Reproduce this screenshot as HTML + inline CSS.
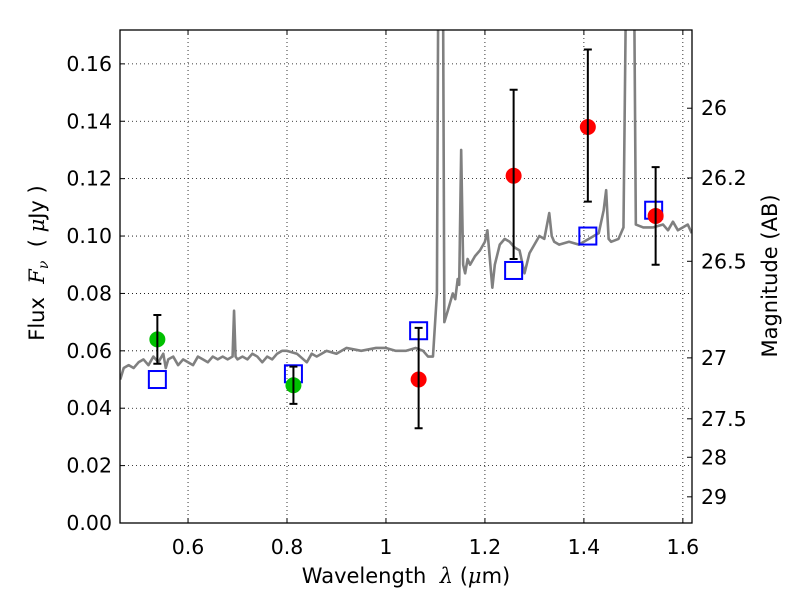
<!DOCTYPE html>
<html><head><meta charset="utf-8"><style>
body{margin:0;background:#fff}
svg text{font-family:"DejaVu Sans","Liberation Sans",sans-serif;fill:#000}
</style></head><body>
<svg id="chart" width="800" height="600" xmlns="http://www.w3.org/2000/svg">
<rect width="800" height="600" fill="#fff"/>
<g id="grid"></g>
<g id="spec"></g>
<g id="marks"></g>
<rect x="120" y="30" width="572" height="493" fill="none" stroke="#000" stroke-width="1.3"/>
<g id="axes"></g>
<text x="406" y="583" font-size="21" text-anchor="middle">Wavelength&#160; <tspan font-style="italic" font-family="DejaVu Serif">λ</tspan> (<tspan font-style="italic" font-family="DejaVu Serif">μ</tspan>m)</text>
<text transform="translate(44,263) rotate(-90)" font-size="21" text-anchor="middle">Flux&#160; <tspan font-style="italic" font-family="DejaVu Serif">F</tspan><tspan font-style="italic" font-family="DejaVu Serif" font-size="14" dy="4">ν</tspan><tspan dy="-4">&#160; ( </tspan><tspan font-style="italic" font-family="DejaVu Serif">μ</tspan>Jy )</text>
<text transform="translate(777,276) rotate(-90)" font-size="21" text-anchor="middle">Magnitude (AB)</text>
</svg>
<script>
const xTicks=[0.6,0.8,1.0,1.2,1.4,1.6];
const xTickLabels=["0.6","0.8","1","1.2","1.4","1.6"];
const yTicks=[0,0.02,0.04,0.06,0.08,0.10,0.12,0.14,0.16];
const yTickLabels=["0.00","0.02","0.04","0.06","0.08","0.10","0.12","0.14","0.16"];
const magTicks=[26,26.2,26.5,27,27.5,28,29];
const magTickLabels=["26","26.2","26.5","27","27.5","28","29"];
const specLam=[0.463,0.47,0.48,0.49,0.5,0.51,0.52,0.53,0.54,0.55,0.555,0.56,0.57,0.58,0.59,0.6,0.61,0.62,0.63,0.64,0.65,0.66,0.67,0.68,0.69,0.693,0.696,0.70,0.71,0.72,0.73,0.74,0.75,0.76,0.77,0.78,0.79,0.80,0.82,0.84,0.85,0.86,0.88,0.90,0.92,0.95,0.98,1.0,1.02,1.04,1.06,1.075,1.085,1.095,1.103,1.106,1.109,1.112,1.115,1.118,1.125,1.135,1.14,1.145,1.148,1.152,1.156,1.16,1.165,1.17,1.18,1.19,1.2,1.205,1.21,1.215,1.22,1.23,1.24,1.25,1.26,1.27,1.28,1.29,1.3,1.31,1.32,1.33,1.335,1.34,1.35,1.37,1.39,1.4,1.41,1.42,1.43,1.44,1.445,1.45,1.455,1.47,1.48,1.486,1.489,1.493,1.497,1.501,1.505,1.52,1.54,1.56,1.57,1.58,1.59,1.6,1.61,1.618];
const specFlux=[0.050,0.054,0.055,0.054,0.056,0.057,0.055,0.058,0.056,0.059,0.054,0.057,0.058,0.055,0.057,0.056,0.055,0.058,0.057,0.056,0.058,0.057,0.058,0.057,0.058,0.074,0.058,0.057,0.058,0.057,0.059,0.058,0.056,0.058,0.057,0.059,0.060,0.060,0.059,0.056,0.059,0.058,0.060,0.059,0.061,0.060,0.061,0.061,0.060,0.060,0.061,0.060,0.058,0.058,0.080,0.20,0.20,0.20,0.20,0.070,0.074,0.080,0.078,0.085,0.083,0.130,0.090,0.087,0.092,0.090,0.093,0.095,0.098,0.102,0.092,0.082,0.090,0.097,0.099,0.098,0.096,0.095,0.087,0.094,0.097,0.100,0.099,0.108,0.100,0.098,0.097,0.098,0.097,0.098,0.099,0.100,0.101,0.109,0.116,0.099,0.098,0.099,0.103,0.20,0.20,0.20,0.20,0.20,0.104,0.103,0.103,0.104,0.102,0.105,0.102,0.103,0.104,0.101];
const ptLam=[0.538,0.813,1.066,1.258,1.408,1.545];
const ptFlux=[0.064,0.048,0.050,0.121,0.138,0.107];
const errLo=[0.0555,0.0415,0.033,0.092,0.112,0.090];
const errHi=[0.0725,0.0545,0.068,0.151,0.165,0.124];
const ptColor=["#00c000","#00c000","#ff0000","#ff0000","#ff0000","#ff0000"];
const modelLam=[0.538,0.813,1.066,1.258,1.408,1.541];
const modelFlux=[0.050,0.052,0.067,0.088,0.100,0.109];

const X0=120,X1=692,Y0=523,Y1=30,LMIN=0.4625,LMAX=1.6185,FMAX=0.1718;
const sx=l=>X0+(l-LMIN)/(LMAX-LMIN)*(X1-X0);
const sy=f=>Y0-f/FMAX*(Y0-Y1);
const NS="http://www.w3.org/2000/svg";
function mk(tag,attrs,parent){const e=document.createElementNS(NS,tag);for(const k in attrs)e.setAttribute(k,attrs[k]);parent.appendChild(e);return e;}
const grid=document.getElementById('grid'),axes=document.getElementById('axes'),spec=document.getElementById('spec'),marks=document.getElementById('marks');
xTicks.forEach((t,i)=>{const x=sx(t);
 const g=mk('line',{x1:x,x2:x,y1:Y1,y2:Y0,stroke:'#000','stroke-width':0.8,'stroke-dasharray':'1,3'},grid);
 
 const tk=mk('path',{d:`M${x},${Y0}v-5M${x},${Y1}v5`,stroke:'#000','stroke-width':1},axes);
 
 const tx=mk('text',{x:x,y:554,'font-size':20.5,'text-anchor':'middle'},axes);tx.textContent=xTickLabels[i];
 });
yTicks.forEach((t,i)=>{const y=sy(t);
 if(t>0){const g=mk('line',{x1:X0,x2:X1,y1:y,y2:y,stroke:'#000','stroke-width':0.8,'stroke-dasharray':'1,3'},grid);
 }
 const tk=mk('path',{d:`M${X0},${y}h5`,stroke:'#000','stroke-width':1},axes);
 
 const tx=mk('text',{x:112,y:y+7,'font-size':20.5,'text-anchor':'end'},axes);tx.textContent=yTickLabels[i];
 });
magTicks.forEach((m,i)=>{const y=sy(Math.pow(10,(23.9-m)/2.5));
 const tk=mk('path',{d:`M${X1},${y}h-5`,stroke:'#000','stroke-width':1},axes);
 
 const tx=mk('text',{x:701,y:y+7,'font-size':20.5},axes);tx.textContent=magTickLabels[i];
 });
mk('clipPath',{id:'cp'},spec).appendChild(document.createElementNS(NS,'rect'));
const cr=spec.querySelector('#cp rect');cr.setAttribute('x',X0);cr.setAttribute('y',Y1);cr.setAttribute('width',X1-X0);cr.setAttribute('height',Y0-Y1);
const sp=mk('polyline',{points:specLam.map((l,i)=>sx(l)+','+sy(specFlux[i])).join(' '),fill:'none',stroke:'#808080','stroke-width':2.6,'stroke-linejoin':'round','clip-path':'url(#cp)'},spec);

modelLam.forEach((l,i)=>{const x=sx(l),y=sy(modelFlux[i]);
 const r=mk('rect',{x:x-8.5,y:y-8.5,width:17,height:17,fill:'none',stroke:'#0000ff','stroke-width':2},marks);
 });
ptLam.forEach((l,i)=>{const x=sx(l),y=sy(ptFlux[i]),a=sy(errHi[i]),b=sy(errLo[i]);
 const c=mk('circle',{cx:x,cy:y,r:8,fill:ptColor[i]},marks);
 
 const e=mk('path',{d:`M${x},${a}V${b}M${x-4},${a}h8M${x-4},${b}h8`,stroke:'#000','stroke-width':2},marks);
 });
</script>
</body></html>
